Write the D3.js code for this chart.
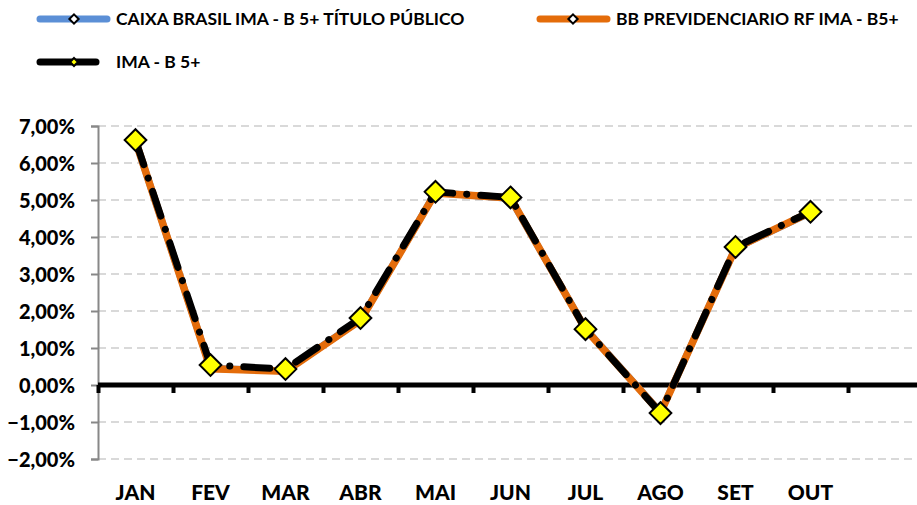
<!DOCTYPE html>
<html>
<head>
<meta charset="utf-8">
<script src="https://cdn.jsdelivr.net/npm/d3@7"></script>
<style>
  body { margin: 0; background: #fff; }
  text { font-family: Lato, "Open Sans", sans-serif; font-weight: 700; fill: #000; }
</style>
</head>
<body>
<svg id="chart" width="917" height="505"></svg>
<script>
// months (last band is empty in the original)
var months = ["JAN", "FEV", "MAR", "ABR", "MAI", "JUN", "JUL", "AGO", "SET", "OUT", ""];
var caixa = [6.60, 0.45, 0.38, 1.76, 5.20, 5.04, 1.52, -0.74, 3.70, 4.66];
var bbPrev = [6.60, 0.44, 0.37, 1.75, 5.19, 5.05, 1.51, -0.75, 3.70, 4.67];
var imaB5 = [6.62, 0.54, 0.43, 1.81, 5.22, 5.07, 1.51, -0.76, 3.73, 4.68];
var yTicks = [-2, -1, 0, 1, 2, 3, 4, 5, 6, 7];
var names = ["CAIXA BRASIL IMA - B 5+ TÍTULO PÚBLICO", "BB PREVIDENCIARIO RF IMA - B5+", "IMA - B 5+"];

var svg = d3.select("#chart");
var plotL = 98, plotR = 923, plotT = 126, plotB = 459;

var x = d3.scaleBand().domain(d3.range(months.length)).range([plotL, plotR]);
var y = d3.scaleLinear().domain([-2, 7]).range([plotB, plotT]);
var fmt = function (v) { return d3.format(".2f")(v).replace(".", ",") + "%"; };

// gridlines
svg.append("g").selectAll("line")
  .data(yTicks.filter(function (d) { return d !== 0; }))
  .enter().append("line")
    .attr("x1", plotL).attr("x2", 917)
    .attr("y1", function (d) { return y(d); })
    .attr("y2", function (d) { return y(d); })
    .attr("stroke", "#d9d9d9").attr("stroke-width", 2)
    .attr("stroke-dasharray", "8,5");

// y axis
var yAxis = svg.append("g")
  .attr("transform", "translate(" + plotL + ",0)")
  .call(d3.axisLeft(y).tickValues(yTicks).tickFormat(fmt).tickSize(7).tickPadding(16));
yAxis.select(".domain").attr("stroke", "#888").attr("stroke-width", 2);
yAxis.selectAll(".tick line").attr("stroke", "#888").attr("stroke-width", 2);
yAxis.selectAll("text").style("font-size", "20px").style("font-family", "Lato, sans-serif")
  .style("font-weight", "900").attr("dy", "0.35em");

// zero line + category ticks
svg.append("line")
  .attr("x1", plotL).attr("x2", 917)
  .attr("y1", y(0)).attr("y2", y(0))
  .attr("stroke", "#000").attr("stroke-width", 5);
svg.append("g").selectAll("rect")
  .data(d3.range(months.length))
  .enter().append("rect")
    .attr("x", function (i) { return x(i) - 1.5; })
    .attr("y", y(0))
    .attr("width", 4).attr("height", 8)
    .attr("fill", "#000");

// month labels
svg.append("g").selectAll("text")
  .data(months)
  .enter().append("text")
    .attr("x", function (d, i) { return x(i) + x.bandwidth() / 2; })
    .attr("y", 500)
    .attr("text-anchor", "middle")
    .style("font-size", "21px")
    .style("font-weight", "900")
    .text(function (d) { return d; });

var line = d3.line()
  .x(function (d, i) { return x(i) + x.bandwidth() / 2; })
  .y(function (d) { return y(d); });

var diamond = d3.symbol().type(d3.symbolDiamond2);

// caixa (blue)
svg.append("path").datum(caixa)
  .attr("d", line).attr("fill", "none")
  .attr("stroke", "#5b8fd6").attr("stroke-width", 7)
  .attr("stroke-linejoin", "round").attr("stroke-linecap", "round");

// BB (orange)
svg.append("path").datum(bbPrev)
  .attr("d", line).attr("fill", "none")
  .attr("stroke", "#e46c0a").attr("stroke-width", 7.5)
  .attr("stroke-linejoin", "round").attr("stroke-linecap", "round");

// IMA-B 5+ (black dash-dot)
svg.append("path").datum(imaB5)
  .attr("d", line).attr("fill", "none")
  .attr("stroke", "#000").attr("stroke-width", 7)
  .attr("stroke-linecap", "round")
  .attr("stroke-dasharray", "26,14,0.1,14");

svg.append("g").selectAll("path")
  .data(imaB5)
  .enter().append("path")
    .attr("d", diamond.size(300))
    .attr("transform", function (d, i) {
      return "translate(" + (x(i) + x.bandwidth() / 2) + "," + y(d) + ")";
    })
    .attr("fill", "#ffff00").attr("stroke", "#000").attr("stroke-width", 2);

// legend
var legend = [
  { name: names[0], color: "#5b8fd6", x0: 37, x1: 110, y: 19, mfill: "#fff", ms: 55, mx: 74, tx: 116 },
  { name: names[1], color: "#e46c0a", x0: 537, x1: 610, y: 19, mfill: "#fff", ms: 55, mx: 573, tx: 616 },
  { name: names[2], color: "#000", x0: 37, x1: 99, y: 62, mfill: "#ffff00", ms: 40, mx: 74, tx: 116 }
];
var lg = svg.append("g").selectAll("g").data(legend).enter().append("g");
lg.append("line")
  .attr("x1", function (d) { return d.x0 + 3; })
  .attr("x2", function (d) { return d.x1 - 3; })
  .attr("y1", function (d) { return d.y; })
  .attr("y2", function (d) { return d.y; })
  .attr("stroke", function (d) { return d.color; })
  .attr("stroke-width", 7).attr("stroke-linecap", "round");
lg.append("path")
  .attr("d", function (d) { return diamond.size(d.ms)(); })
  .attr("transform", function (d) { return "translate(" + d.mx + "," + d.y + ")"; })
  .attr("fill", function (d) { return d.mfill; })
  .attr("stroke", "#000").attr("stroke-width", 2);
lg.append("text")
  .attr("x", function (d) { return d.tx; })
  .attr("y", function (d) { return d.y; })
  .attr("dy", "0.36em")
  .style("font-size", "17.5px")
  .text(function (d) { return d.name; });
</script>
</body>
</html>
